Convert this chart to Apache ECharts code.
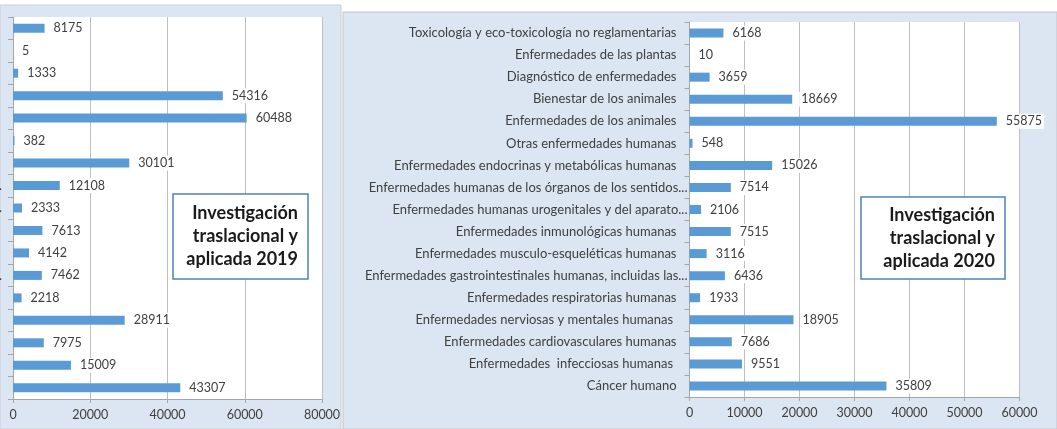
<!DOCTYPE html>
<html>
<head>
<meta charset="utf-8">
<script src="https://cdn.jsdelivr.net/npm/echarts@6/dist/echarts.min.js"></script>
<style>
html,body{margin:0;padding:0;background:#fff;}
#c{width:1057px;height:429px;}
</style>
</head>
<body>
<div id="c"></div>
<script>
const categories = [
  "Toxicología y eco-toxicología no reglamentarias",
  "Enfermedades de las plantas",
  "Diagnóstico de enfermedades",
  "Bienestar de los animales",
  "Enfermedades de los animales",
  "Otras enfermedades humanas",
  "Enfermedades endocrinas y metabólicas humanas",
  "Enfermedades humanas de los órganos de los sentidos...",
  "Enfermedades humanas urogenitales y del aparato...",
  "Enfermedades inmunológicas humanas",
  "Enfermedades musculo-esqueléticas humanas",
  "Enfermedades gastrointestinales humanas, incluidas las...",
  "Enfermedades respiratorias humanas",
  "Enfermedades nerviosas y mentales humanas ",
  "Enfermedades cardiovasculares humanas",
  "Enfermedades  infecciosas humanas ",
  "Cáncer humano"
];
const values2019 = [8175, 5, 1333, 54316, 60488, 382, 30101, 12108, 2333, 7613, 4142, 7462, 2218, 28911, 7975, 15009, 43307];
const values2020 = [6168, 10, 3659, 18669, 55875, 548, 15026, 7514, 2106, 7515, 3116, 6436, 1933, 18905, 7686, 9551, 35809];
const title2019 = "Investigación\ntraslacional y\naplicada 2019";
const title2020 = "Investigación\ntraslacional y\naplicada 2020";
const ticks2019 = [0, 20000, 40000, 60000, 80000];
const ticks2020 = [0, 10000, 20000, 30000, 40000, 50000, 60000];

const FONT = 'Lato, "Noto Sans", sans-serif';
const TXT = '#404040';
const BAR = '#5B9BD5';
const PANEL = '#DCE6F2';

const chart = echarts.init(document.getElementById('c'), null, {renderer: 'canvas'});

function xAxis(gridIndex, ticks) {
  return {
    type: 'value', gridIndex: gridIndex,
    min: ticks[0], max: ticks[ticks.length - 1], interval: ticks[1] - ticks[0],
    axisLine: {show: true, lineStyle: {color: '#A6A6A6'}},
    axisTick: {show: true, length: 4, lineStyle: {color: '#A6A6A6'}},
    splitLine: {show: true, lineStyle: {color: '#BFBFBF'}},
    axisLabel: {color: TXT, fontFamily: FONT, fontSize: 12.5, margin: 9, formatter: function (v) { return String(v); }}
  };
}
function yAxis(gridIndex, margin, normalPad) {
  return {
    type: 'category', gridIndex: gridIndex, data: categories, inverse: true,
    axisLine: {show: true, lineStyle: {color: '#A6A6A6'}},
    axisTick: {show: true, length: 5, lineStyle: {color: '#A6A6A6'}},
    axisLabel: {color: TXT, fontFamily: FONT, fontSize: 13, margin: margin,
      formatter: function (v) { return /\.\.\.$/.test(v) ? '{e|' + v + '}' : '{n|' + v + '}'; },
      rich: {
        e: {color: TXT, fontFamily: FONT, fontSize: 13},
        n: {color: TXT, fontFamily: FONT, fontSize: 13, padding: [0, normalPad, 0, 0]}
      }}
  };
}
function series(idx, vals) {
  return {
    type: 'bar', xAxisIndex: idx, yAxisIndex: idx, data: vals,
    barWidth: 9, itemStyle: {color: BAR},
    label: {show: true, position: 'right', distance: 7, color: TXT, fontFamily: FONT, fontSize: 12.5,
      backgroundColor: '#fff', padding: [1, 2, 1, 2]}
  };
}
function box(x, y, w, h, title) {
  return [
    {type: 'rect', z: 100, shape: {x: x, y: y, width: w, height: h},
     style: {fill: '#fff', stroke: '#4F81BD', lineWidth: 1.5}},
    {type: 'text', z: 101, x: x + w - 10, y: y + h / 2,
     style: {text: title, align: 'right', verticalAlign: 'middle', fill: '#1a1a1a',
       font: 'bold 18px ' + FONT, lineHeight: 23}}
  ];
}

chart.setOption({
  backgroundColor: '#fff',
  animation: false,
  graphic: {elements: [
    {type: 'rect', z: -100, shape: {x: 0, y: 5, width: 341, height: 424}, style: {fill: PANEL, stroke: '#C9CED6', lineWidth: 1}},
    {type: 'rect', z: -100, shape: {x: 343, y: 12, width: 714, height: 417}, style: {fill: PANEL, stroke: '#C0C4CA', lineWidth: 1}},
    {type: 'rect', z: -99, shape: {x: 13, y: 17, width: 309, height: 382}, style: {fill: '#fff'}},
    {type: 'rect', z: -99, shape: {x: 689.5, y: 22, width: 330, height: 375}, style: {fill: '#fff'}}
  ].concat(box(173, 194, 135, 85, title2019)).concat(box(861, 197, 144, 82, title2020))},
  grid: [
    {left: 13, top: 17, width: 309, height: 382, containLabel: false, outerBoundsMode: 'none'},
    {left: 689.5, top: 22, width: 330, height: 375, containLabel: false, outerBoundsMode: 'none'}
  ],
  xAxis: [xAxis(0, ticks2019), xAxis(1, ticks2020)],
  yAxis: [yAxis(0, 11, 11), yAxis(1, 2, 11)],
  series: [series(0, values2019), series(1, values2020)]
});
</script>
</body>
</html>
